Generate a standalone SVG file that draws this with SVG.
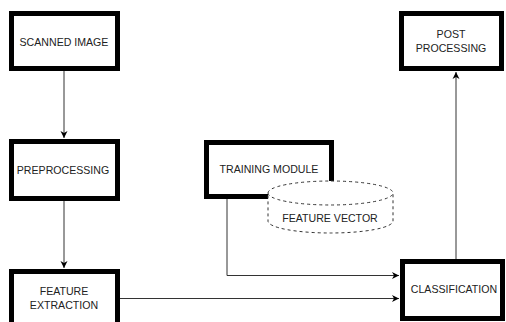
<svg xmlns="http://www.w3.org/2000/svg" width="506" height="322" viewBox="0 0 506 322">
<style>
.box{fill:#fff;stroke:#000;stroke-width:5}
.t{font-family:"Liberation Sans",Arial,sans-serif;font-size:10.6px;fill:#222;text-anchor:middle;dominant-baseline:central}
.c{fill:none;stroke:#333;stroke-width:1}
.cyl{fill:#fff;stroke:#333;stroke-width:1;stroke-dasharray:3 3}
</style>
<defs>
<marker id="ah" markerWidth="8" markerHeight="8" refX="7" refY="4" orient="auto" markerUnits="userSpaceOnUse">
<path d="M0,0.5 L7,4 L0,7.5 L2,4 Z" fill="#000"/>
</marker>
</defs>
<rect width="506" height="322" fill="#fff"/>
<g id="connectors">
<path class="c" d="M64,71 V138" marker-end="url(#ah)"/>
<path class="c" d="M64,201 V268" marker-end="url(#ah)"/>
<path class="c" d="M227,199 V275.5 H399" marker-end="url(#ah)"/>
<path class="c" d="M120,298.5 H399" marker-end="url(#ah)"/>
<path class="c" d="M456,259 V72" marker-end="url(#ah)"/>
</g>
<g id="scanned-image">
<rect class="box" x="11.5" y="13.5" width="106" height="55"/>
<text class="t" x="64" y="42">SCANNED IMAGE</text>
</g>
<g id="preprocessing">
<rect class="box" x="11.5" y="141.5" width="106" height="57"/>
<text class="t" x="63" y="170">PREPROCESSING</text>
</g>
<g id="feature-extraction">
<rect class="box" x="11.5" y="271.5" width="106" height="60"/>
<text class="t" x="64" y="291">FEATURE</text>
<text class="t" x="64" y="305">EXTRACTION</text>
</g>
<g id="training-module">
<rect class="box" x="206.5" y="142.5" width="125" height="54"/>
<text class="t" x="269" y="169">TRAINING MODULE</text>
</g>
<g id="feature-vector">
<path class="cyl" d="M268,193 A62.5,12 0 0 1 393,193 V221 A62.5,12 0 0 1 268,221 Z"/>
<path class="cyl" d="M268,193 A62.5,12 0 0 0 393,193" fill="none"/>
<text class="t" x="330" y="218">FEATURE VECTOR</text>
</g>
<g id="classification">
<rect class="box" x="402.5" y="261.5" width="100" height="57"/>
<text class="t" x="454" y="289">CLASSIFICATION</text>
</g>
<g id="post-processing">
<rect class="box" x="401.5" y="13.5" width="100" height="55"/>
<text class="t" x="451" y="34">POST</text>
<text class="t" x="451" y="48">PROCESSING</text>
</g>
</svg>
